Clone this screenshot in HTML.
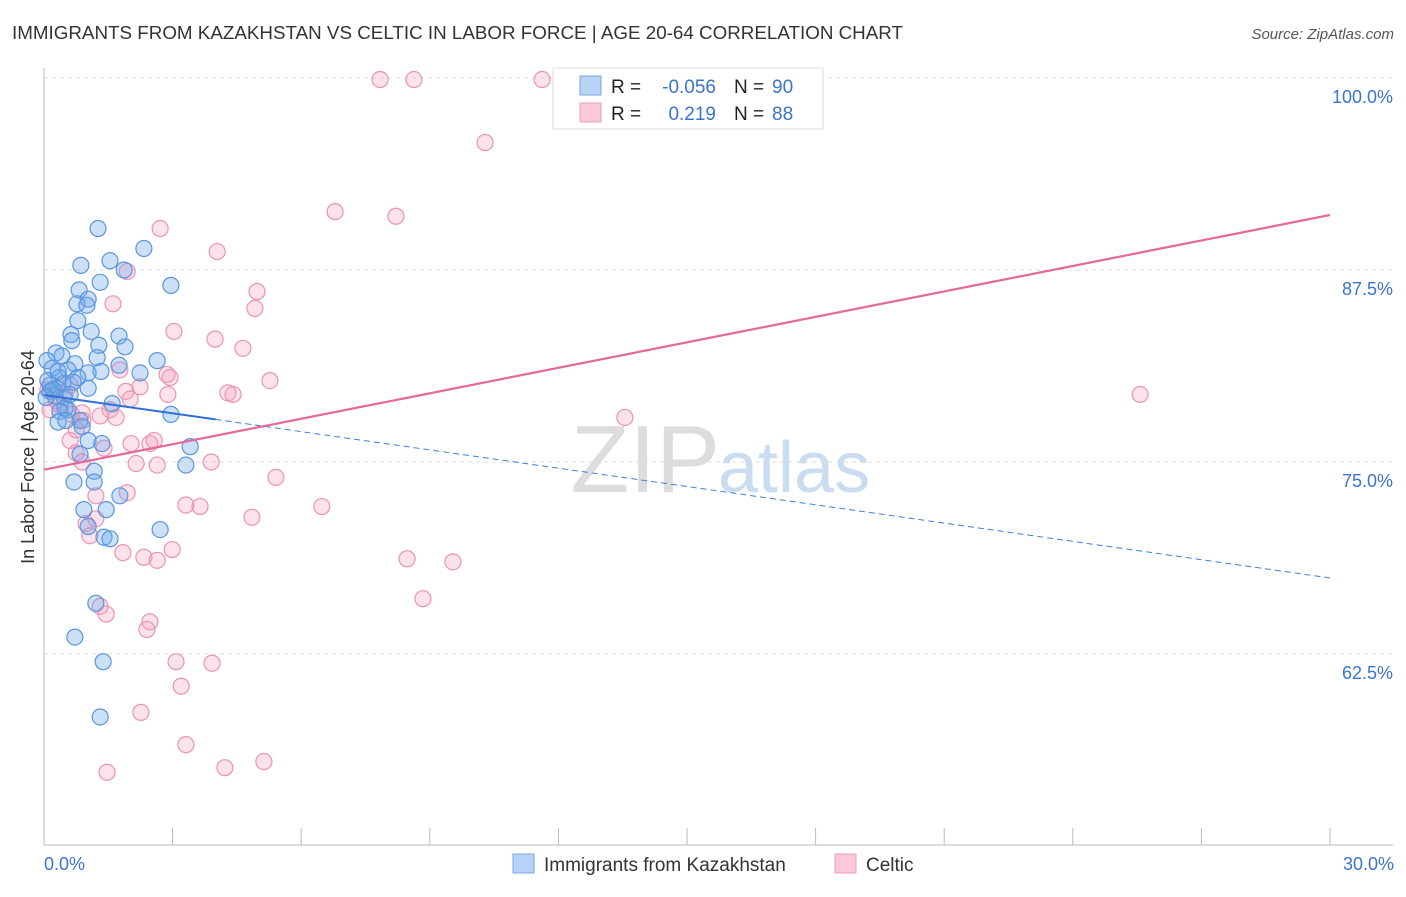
<!DOCTYPE html>
<html><head><meta charset="utf-8"><style>
body{margin:0;background:#fff;font-family:"Liberation Sans",sans-serif;}
svg text{font-family:"Liberation Sans",sans-serif;}
</style></head><body>
<svg id="chart" width="1406" height="892">
<text x="12" y="39" font-size="18" fill="#333" textLength="891" lengthAdjust="spacingAndGlyphs">IMMIGRANTS FROM KAZAKHSTAN VS CELTIC IN LABOR FORCE | AGE 20-64 CORRELATION CHART</text>
<text x="1394" y="39" font-size="15" fill="#555" font-style="italic" text-anchor="end">Source: ZipAtlas.com</text>
<text x="720" y="492" font-size="96" fill="#ddd" text-anchor="end" font-family="Liberation Serif">ZIP</text>
<text x="718" y="492" font-size="72" fill="#c9dcf0">atlas</text>
<g id="grid"></g>
<g id="axes"></g>
<g id="pts"></g>
<g id="lines"></g>
<text transform="translate(34,457) rotate(-90)" font-size="18" fill="#333" text-anchor="middle">In Labor Force | Age 20-64</text>
<text x="44" y="870" font-size="18" fill="#3b73d0">0.0%</text>
<text x="1394" y="870" font-size="18" fill="#3b73d0" text-anchor="end">30.0%</text>
<g>
<rect x="553" y="68" width="270" height="61" fill="#fff" stroke="#ddd"/>
<rect x="580" y="76" width="21" height="19" fill="#b8d3f5" stroke="#7aa7e0"/>
<rect x="580" y="103" width="21" height="19" fill="#fac8d8" stroke="#eba0ba"/>
<text x="611" y="93" font-size="19" fill="#222">R =</text>
<text x="716" y="93" font-size="19" fill="#3b73d0" text-anchor="end">-0.056</text>
<text x="734" y="93" font-size="19" fill="#222">N =</text>
<text x="772" y="93" font-size="19" fill="#3b73d0">90</text>
<text x="611" y="120" font-size="19" fill="#222">R =</text>
<text x="716" y="120" font-size="19" fill="#3b73d0" text-anchor="end">0.219</text>
<text x="734" y="120" font-size="19" fill="#222">N =</text>
<text x="772" y="120" font-size="19" fill="#3b73d0">88</text>
</g>
<g>
<rect x="513" y="854" width="21" height="19" fill="#b8d3f5" stroke="#7aa7e0"/>
<text x="544" y="871" font-size="19" fill="#333">Immigrants from Kazakhstan</text>
<rect x="835" y="854" width="21" height="19" fill="#fac8d8" stroke="#eba0ba"/>
<text x="866" y="871" font-size="19" fill="#333">Celtic</text>
</g>
</svg>
<script>
const yTicks=[100,87.5,75,62.5];
const yTickLabels=["100.0%","87.5%","75.0%","62.5%"];
const blueX=[1.26,2.33,0.86,1.54,1.87,2.96,0.82,1.31,0.77,1.03,1.00,0.79,1.10,0.63,1.75,0.65,1.28,1.89,0.28,0.42,0.07,0.72,2.64,1.24,0.19,0.56,1.75,1.33,1.03,2.24,0.09,0.35,0.44,0.79,0.68,0.30,1.03,0.14,0.26,0.47,1.59,0.49,0.56,0.37,2.96,0.33,0.84,0.51,0.89,1.03,1.35,3.41,0.84,3.31,1.17,0.70,1.17,1.77,0.93,1.45,1.03,2.71,1.40,1.54,1.21,0.72,1.38,1.31,0.14,0.21,0.05,0.33,0.61];
const blueY=[90.2,88.9,87.8,88.1,87.5,86.5,86.2,86.7,85.3,85.6,85.2,84.2,83.5,83.3,83.2,82.9,82.6,82.5,82.1,81.9,81.6,81.4,81.6,81.8,81.1,81.0,81.3,80.9,80.8,80.8,80.3,80.5,80.1,80.5,80.2,79.8,79.8,79.6,79.3,79.2,78.8,78.5,78.4,78.3,78.1,77.6,77.7,77.7,77.3,76.4,76.2,76.0,75.5,74.8,74.4,73.7,73.7,72.8,71.9,71.9,70.8,70.6,70.1,70.0,65.8,63.6,62.0,58.4,80.0,79.7,79.2,80.9,79.4];
const pinkX=[7.84,8.63,11.62,10.29,6.79,8.21,2.71,4.04,1.94,4.97,1.61,4.92,3.03,3.99,4.64,1.77,2.87,2.94,2.24,5.27,4.29,4.41,2.89,1.91,1.54,2.01,13.55,25.57,1.31,1.68,0.91,0.65,0.89,0.61,2.03,2.47,2.57,1.40,0.75,2.15,2.64,3.90,0.89,1.21,1.94,3.31,3.64,5.41,6.48,4.85,0.98,1.21,1.07,1.84,2.33,2.64,2.99,8.47,9.54,8.84,1.31,1.45,2.47,2.40,3.08,3.92,3.20,2.26,3.31,1.47,4.22,5.13,0.28,0.37,0.09,0.49,0.14,0.75,0.61];
const pinkY=[99.9,99.9,99.9,95.8,91.3,91.0,90.2,88.7,87.4,86.1,85.3,85.0,83.5,83.0,82.4,81.0,80.7,80.5,79.9,80.3,79.5,79.4,79.4,79.6,78.4,79.1,77.9,79.4,78.0,77.9,77.7,78.1,78.2,76.4,76.2,76.2,76.4,75.9,75.6,74.9,74.8,75.0,75.0,72.8,73.0,72.2,72.1,74.0,72.1,71.4,71.0,71.3,70.2,69.1,68.8,68.6,69.3,68.7,68.5,66.1,65.6,65.1,64.6,64.1,62.0,61.9,60.4,58.7,56.6,54.8,55.1,55.5,79.0,78.7,79.7,79.4,78.4,77.1,80.0];
const blueTrend=[79.36,67.45];
const pinkTrend=[74.5,91.08];
const NS="http://www.w3.org/2000/svg";
const X=v=>44+v/30*1286, Y=v=>78+(100-v)*15.36;
function mk(t,a,p){const e=document.createElementNS(NS,t);for(const k in a)e.setAttribute(k,a[k]);p.appendChild(e);return e;}
const grid=document.getElementById('grid'),axes=document.getElementById('axes'),pts=document.getElementById('pts'),lines=document.getElementById('lines');
yTicks.forEach((t,i)=>{
 const g=mk('line',{x1:44,x2:1393,y1:Y(t),y2:Y(t),stroke:'#ddd','stroke-dasharray':'4,4'},grid);
 
 
 const l=mk('text',{x:1393,y:Y(t)+25,'font-size':18,fill:'#3b73d0','text-anchor':'end'},grid);
 l.textContent=yTickLabels[i];
 
 
});
const ax=mk('path',{d:'M44 68V845H1393',fill:'none',stroke:'#bbb'},axes);


for(let i=0;i<=10;i++){const t=mk('line',{x1:X(i*3),x2:X(i*3),y1:828,y2:845,stroke:'#bbb'},axes);
 
 }
function dots(xs,ys,fill,stroke,name){xs.forEach((x,i)=>{const c=mk('circle',{cx:X(x),cy:Y(ys[i]),r:8,fill:fill,stroke:stroke,'stroke-width':1.2},pts);
 
 });}
dots(pinkX,pinkY,'rgba(245,160,190,0.3)','#ec93b3','celtic-point');
dots(blueX,blueY,'rgba(110,165,235,0.35)','#5a95dd','kazakhstan-point');
const bx=4;
const b1=mk('line',{x1:X(0),y1:Y(blueTrend[0]),x2:X(bx),y2:Y(blueTrend[0]+(blueTrend[1]-blueTrend[0])*bx/30),stroke:'#2f6fd6','stroke-width':2},lines);


const b2=mk('line',{x1:X(bx),y1:Y(blueTrend[0]+(blueTrend[1]-blueTrend[0])*bx/30),x2:X(30),y2:Y(blueTrend[1]),stroke:'#3f7fdc','stroke-width':1,'stroke-dasharray':'6,4'},lines);


const p=mk('line',{x1:X(0),y1:Y(pinkTrend[0]),x2:X(30),y2:Y(pinkTrend[1]),stroke:'#e4699a','stroke-width':2.2},lines);


</script>
</body></html>
